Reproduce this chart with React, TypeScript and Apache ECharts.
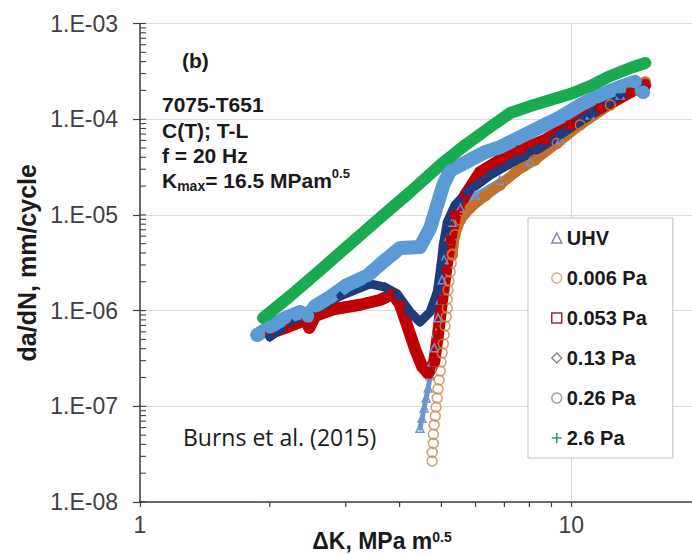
import React, { useEffect, useRef } from 'react';
import * as echarts from 'echarts';

// ---------- data (ΔK in MPa·m^0.5, da/dN in mm/cycle) ----------
const legendNames = ['UHV', '0.006 Pa', '0.053 Pa', '0.13 Pa', '0.26 Pa', '2.6 Pa'];

const uhvData: number[][] = [
  [4.46, 5.9e-8], [4.51, 7.5e-8], [4.56, 9.6e-8], [4.61, 1.22e-7], [4.66, 1.55e-7],
  [4.71, 2.1e-7], [4.76, 2.9e-7], [4.81, 4.1e-7], [4.86, 5.8e-7], [4.91, 8.4e-7],
  [4.97, 1.29e-6], [5.02, 2.1e-6], [5.07, 3.4e-6], [5.16, 5.5e-6], [5.3, 8.4e-6],
  [5.53, 1.18e-5], [5.99, 1.61e-5], [6.84, 2.3e-5], [8.03, 3.6e-5], [9.43, 6.1e-5],
  [11.07, 1.11e-4], [12.99, 1.79e-4], [14.46, 2.12e-4],
];

const pa0006Column: number[][] = [
  [4.76, 2.68e-8], [4.76, 3.3e-8], [4.79, 4.1e-8], [4.79, 5.1e-8], [4.81, 6.4e-8],
  [4.84, 7.9e-8], [4.86, 9.8e-8], [4.89, 1.22e-7], [4.91, 1.52e-7], [4.94, 1.88e-7],
  [4.97, 2.34e-7], [4.99, 2.9e-7], [5.02, 3.6e-7], [5.05, 4.5e-7], [5.07, 5.6e-7],
  [5.1, 6.9e-7], [5.13, 8.6e-7], [5.16, 1.06e-6], [5.16, 1.32e-6], [5.18, 1.64e-6],
  [5.21, 2.04e-6], [5.24, 2.53e-6], [5.27, 3.14e-6], [5.3, 3.9e-6],
];

const pa0006Band: number[][] = [
  [5.3, 3.8e-6], [5.38, 6.2e-6], [5.53, 8.8e-6], [5.83, 1.18e-5], [6.32, 1.58e-5],
  [6.84, 2.05e-5], [7.42, 2.8e-5], [8.25, 3.75e-5], [9.28, 5.6e-5], [10.49, 8.7e-5],
  [12.32, 1.41e-4], [14.08, 2.02e-4], [14.85, 2.45e-4],
];

const pa0053Data: number[][] = [
  [2.0, 5.8e-7], [2.23, 6.9e-7], [2.42, 8.0e-7], [2.47, 6.6e-7], [2.55, 8.8e-7],
  [2.83, 1.04e-6], [3.24, 1.15e-6], [3.6, 1.29e-6], [3.86, 1.49e-6], [4.01, 1.15e-6],
  [4.16, 7.1e-7], [4.35, 3.9e-7], [4.51, 2.6e-7], [4.66, 2.2e-7], [4.81, 2.9e-7],
  [4.91, 5.6e-7], [5.02, 1.29e-6], [5.13, 2.7e-6], [5.24, 5.5e-6], [5.38, 1.0e-5],
  [5.68, 1.61e-5], [6.15, 2.8e-5], [6.84, 3.75e-5], [7.62, 4.75e-5], [8.71, 6.1e-5],
  [9.95, 8.7e-5], [11.68, 1.31e-4], [13.71, 1.92e-4], [14.85, 2.28e-4],
];

const pa013Data: number[][] = [
  [2.0, 5.3e-7], [2.23, 7.6e-7], [2.52, 9.9e-7], [2.91, 1.42e-6], [3.42, 1.9e-6],
  [3.7, 1.76e-6], [3.95, 1.49e-6], [4.23, 9.7e-7], [4.46, 7.6e-7], [4.71, 9.7e-7],
  [4.89, 1.56e-6], [4.99, 3.0e-6], [5.05, 4.85e-6], [5.16, 8.4e-6], [5.38, 1.27e-5],
  [5.74, 1.73e-5], [6.49, 2.61e-5], [7.49, 3.75e-5], [8.48, 5.0e-5], [9.43, 6.84e-5],
  [11.07, 1.11e-4], [12.99, 1.79e-4], [14.46, 2.28e-4],
];

const pa026Data: number[][] = [
  [1.87, 5.56e-7], [2.0, 6.74e-7], [2.17, 8.37e-7], [2.35, 9.67e-7], [2.45, 8.78e-7],
  [2.55, 1.12e-6], [2.76, 1.39e-6], [3.02, 1.85e-6], [3.36, 2.3e-6], [3.66, 3.22e-6],
  [4.01, 4.51e-6], [4.46, 4.62e-6], [4.71, 7.3e-6], [4.89, 1.27e-5], [5.05, 2.05e-5],
  [5.24, 2.9e-5], [5.83, 3.75e-5], [6.32, 4.54e-5], [6.84, 5.12e-5], [7.62, 6.52e-5],
  [8.48, 8.29e-5], [9.43, 1.05e-4], [10.49, 1.41e-4], [11.68, 1.79e-4], [12.99, 2.17e-4],
  [14.08, 2.45e-4], [14.69, 1.92e-4],
];

const pa26Data: number[][] = [
  [1.93, 8.37e-7], [2.23, 1.42e-6], [2.62, 2.66e-6], [3.07, 4.97e-6], [3.6, 9.28e-6],
  [4.23, 1.73e-5], [4.97, 3.32e-5], [5.68, 5.37e-5], [6.49, 8.29e-5], [7.22, 1.16e-4],
  [8.03, 1.37e-4], [8.94, 1.59e-4], [9.95, 1.83e-4], [11.07, 2.22e-4], [12.32, 2.83e-4],
  [13.71, 3.43e-4], [14.85, 3.87e-4],
];

const xTickValues = [1, 10];
const xTickLabels = ['1', '10'];
const yTickValues = [1e-8, 1e-7, 1e-6, 1e-5, 1e-4, 1e-3];
const yTickLabels = ['1.E-08', '1.E-07', '1.E-06', '1.E-05', '1.E-04', '1.E-03'];
const xMinorTicks = [2, 3, 4, 5, 6, 7, 8, 9, 20];
const yMinorMantissas = [1, 2, 3, 4, 5, 6, 7, 8, 9];
const yDecades = [-8, -7, -6, -5, -4];

// ---------- styles ----------
const FONT = '"Liberation Sans", Arial, sans-serif';
const PLUS = 'path://M4.2,0H5.8V4.2H10V5.8H5.8V10H4.2V5.8H0V4.2H4.2Z';
const AXIS = '#404040';
const INK = '#1a1a1a';
const C = {
  uhv: '#6e95d1',
  o: '#c5702a',
  oCol: '#c8874a',
  r: '#c00000',
  n: '#1f3a7d',
  b: '#5b9bd5',
  g: '#1aab50',
};

export default function App() {
  const ref = useRef<HTMLDivElement>(null);
  useEffect(() => {
    const chart = echarts.init(ref.current!, null, { renderer: 'svg' });

    const yMinor: number[][] = [];
    yDecades.forEach((e) => yMinorMantissas.forEach((m) => yMinor.push([1, m * Math.pow(10, e)])));
    yMinor.push([1, 1e-3]);

    const lineSeries = (name: string, data: number[][], color: string, width: number, symbol: string, size: number, hollow: boolean) => ({
      type: 'line',
      name,
      data,
      symbol,
      symbolSize: size,
      showSymbol: true,
      silent: true,
      z: 2,
      lineStyle: { color, width, join: 'round', cap: 'round' },
      itemStyle: hollow
        ? { color: 'rgba(0,0,0,0)', borderColor: color, borderWidth: 1.5 }
        : { color, borderWidth: 0 },
      emphasis: { disabled: true },
    });

    const boldText = (text: string, x: number, y: number) => ({
      type: 'text', x, y,
      style: { text, fontSize: 21, fontWeight: 'bold', fontFamily: FONT, fill: INK, verticalAlign: 'middle' },
    });

    const option: any = {
      animation: false,
      backgroundColor: '#ffffff',
      grid: { left: 140, top: 23.5, width: 561, height: 478.5, outerBoundsMode: 'none', containLabel: false },
      xAxis: {
        type: 'log',
        logBase: 10,
        min: 1,
        max: 20,
        axisLine: { show: true, lineStyle: { color: AXIS, width: 1.5 } },
        axisTick: { show: true, inside: false, length: 5, lineStyle: { color: AXIS, width: 1.2 } },
        minorTick: { show: false },
        splitLine: { show: true, lineStyle: { color: '#d9d9d9', width: 1 } },
        axisLabel: {
          margin: 11,
          fontSize: 23,
          fontFamily: FONT,
          color: AXIS,
          formatter: (v: number) => {
            const i = xTickValues.findIndex((t) => Math.abs(t - v) < 1e-9 * t);
            return i >= 0 ? xTickLabels[i] : '';
          },
        },
      },
      yAxis: {
        type: 'log',
        logBase: 10,
        min: 1e-8,
        max: 1e-3,
        name: 'da/dN, mm/cycle',
        nameLocation: 'middle',
        nameGap: 97,
        nameTextStyle: { fontSize: 25, fontWeight: 'bold', fontFamily: FONT, color: INK },
        axisLine: { show: true, lineStyle: { color: AXIS, width: 1.5 } },
        axisTick: { show: true, inside: false, length: 7, lineStyle: { color: AXIS, width: 1.2 } },
        minorTick: { show: false },
        splitLine: { show: true, lineStyle: { color: '#d9d9d9', width: 1 } },
        axisLabel: {
          margin: 22,
          fontSize: 23,
          fontFamily: FONT,
          color: AXIS,
          formatter: (v: number) => {
            const i = yTickValues.findIndex((t) => Math.abs(Math.log10(t) - Math.log10(v)) < 1e-6);
            return i >= 0 ? yTickLabels[i] : '';
          },
        },
      },
      legend: {
        left: 528,
        top: 218,
        orient: 'vertical',
        selectedMode: false,
        backgroundColor: '#ffffff',
        borderColor: '#bfbfbf',
        borderWidth: 1,
        padding: [10, 26, 10, 23],
        itemGap: 20,
        itemWidth: 10,
        itemHeight: 10,
        textStyle: { fontSize: 20, fontWeight: 'bold', fontFamily: FONT, color: INK, lineHeight: 20 },
        data: [
          { name: legendNames[0], icon: 'triangle', itemStyle: { color: 'rgba(0,0,0,0)', borderColor: '#7d8ca3', borderWidth: 1.5 } },
          { name: legendNames[1], icon: 'circle', itemStyle: { color: 'rgba(0,0,0,0)', borderColor: '#c49a6c', borderWidth: 1.5 } },
          { name: legendNames[2], icon: 'rect', itemStyle: { color: 'rgba(0,0,0,0)', borderColor: '#8b3041', borderWidth: 1.5 } },
          { name: legendNames[3], icon: 'diamond', itemStyle: { color: 'rgba(0,0,0,0)', borderColor: '#8a8a8a', borderWidth: 1.5 } },
          { name: legendNames[4], icon: 'circle', itemStyle: { color: 'rgba(0,0,0,0)', borderColor: '#8fa0b3', borderWidth: 1.5 } },
          { name: legendNames[5], icon: PLUS, itemStyle: { color: '#3a9a6e', borderWidth: 0 } },
        ],
      },
      series: [
        lineSeries(legendNames[0], uhvData, C.uhv, 5, 'triangle', 8, true),
        {
          type: 'scatter',
          name: legendNames[1],
          data: pa0006Column,
          symbol: 'circle',
          symbolSize: 10,
          silent: true,
          z: 2,
          itemStyle: { color: 'rgba(0,0,0,0)', borderColor: C.oCol, borderWidth: 1.5 },
        },
        lineSeries(legendNames[1], pa0006Band, C.o, 10, 'circle', 10, true),
        lineSeries(legendNames[2], pa0053Data, C.r, 12, 'rect', 9, false),
        lineSeries(legendNames[3], pa013Data, C.n, 9, 'diamond', 10, false),
        lineSeries(legendNames[4], pa026Data, C.b, 14, 'circle', 13, false),
        lineSeries(legendNames[5], pa26Data, C.g, 12, PLUS, 12, false),
        {
          type: 'custom',
          name: 'yMinorTicks',
          data: yMinor,
          silent: true,
          clip: false,
          z: 5,
          renderItem: (_p: any, api: any) => {
            const p = api.coord([api.value(0), api.value(1)]);
            return { type: 'line', shape: { x1: p[0], y1: p[1], x2: p[0] + 6, y2: p[1] }, style: { stroke: AXIS, lineWidth: 1.1 } };
          },
        },
        {
          type: 'custom',
          name: 'xMinorTicks',
          data: xMinorTicks.map((v) => [v, 1e-8]),
          silent: true,
          clip: false,
          z: 5,
          renderItem: (_p: any, api: any) => {
            const p = api.coord([api.value(0), api.value(1)]);
            return { type: 'line', shape: { x1: p[0], y1: p[1], x2: p[0], y2: p[1] + 5 }, style: { stroke: AXIS, lineWidth: 1.2 } };
          },
        },
      ],
      graphic: [
        boldText('(b)', 182, 60),
        boldText('7075-T651', 162, 104),
        boldText('C(T); T-L', 162, 130),
        boldText('f = 20 Hz', 162, 155),
        {
          type: 'text',
          x: 162,
          y: 180,
          style: {
            text: '{k|K}{s|max}{k|= 16.5 MPam}{p|0.5}',
            verticalAlign: 'middle',
            fill: INK,
            rich: {
              k: { fontSize: 21, fontWeight: 'bold', fontFamily: FONT, fill: INK, lineHeight: 26 },
              s: { fontSize: 14, fontWeight: 'bold', fontFamily: FONT, fill: INK, lineHeight: 14, verticalAlign: 'bottom' },
              p: { fontSize: 13, fontWeight: 'bold', fontFamily: FONT, fill: INK, lineHeight: 13, verticalAlign: 'top' },
            },
          },
        },
        { type: 'text', x: 183, y: 437, style: { text: 'Burns et al. (2015)', fontSize: 23, fontFamily: '"Open Sans", "Noto Sans", sans-serif', fill: INK, verticalAlign: 'middle' } },
        {
          type: 'text',
          x: 382,
          y: 541,
          style: {
            text: '{a|ΔK, MPa m}{b|0.5}',
            align: 'center',
            verticalAlign: 'middle',
            fill: INK,
            rich: {
              a: { fontSize: 23, fontWeight: 'bold', fontFamily: FONT, fill: INK, lineHeight: 22 },
              b: { fontSize: 14, fontWeight: 'bold', fontFamily: FONT, fill: INK, lineHeight: 12, verticalAlign: 'top' },
            },
          },
        },
      ],
    };
    chart.setOption(option);
    return () => chart.dispose();
  }, []);
  return <div ref={ref} style={{ position: 'fixed', left: 0, top: 0, width: 692, height: 554, background: '#fff' }} />;
}
